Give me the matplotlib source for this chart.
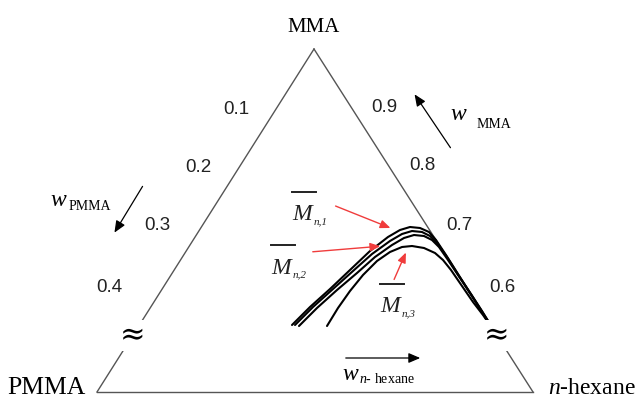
import matplotlib
matplotlib.use("Agg")
import matplotlib.pyplot as plt
import numpy as np

plt.rcParams["mathtext.fontset"] = "custom"
plt.rcParams["mathtext.rm"] = "Liberation Serif"
plt.rcParams["mathtext.it"] = "Liberation Serif:italic"

# Corner positions of the (broken-axis) ternary frame, in drawing units
apex = (314, 49)
corner_left = (97, 392)
corner_right = (533, 392)

corner_labels = ["MMA", "PMMA", "$\\it{n}$-hexane"]

# Axis tick labels along the two slanted sides
left_ticks = ["0.1", "0.2", "0.3", "0.4"]
left_tick_pos = [(236, 110), (198, 167), (157, 225), (109, 287)]
right_ticks = ["0.9", "0.8", "0.7", "0.6"]
right_tick_pos = [(384, 108), (422, 166), (459, 225), (502, 287)]

# Binodal (cloud-point) curves for the polymer samples
curve1_x = [292, 310, 330, 350, 370, 388, 400, 410, 420, 429, 436, 446, 458, 470, 481, 490]
curve1_y = [325, 307, 289, 270, 251, 237, 230, 227, 228, 232, 240, 255, 274, 293, 310, 324]
curve2_x = [295, 313, 333, 353, 372, 390, 402, 412, 422, 430, 437, 447, 459, 471, 482, 490]
curve2_y = [325, 307, 289, 271, 254, 241, 234, 231, 232, 236, 243, 257, 276, 294, 311, 324]
curve3_x = [299, 317, 337, 357, 375, 392, 404, 414, 424, 432, 439, 448, 460, 472, 482, 489]
curve3_y = [326, 308, 290, 273, 257, 245, 238, 235, 236, 240, 247, 260, 278, 296, 312, 324]
curve4_x = [327, 338, 350, 363, 377, 390, 402, 412, 424, 435, 443, 451, 462, 473, 483, 490]
curve4_y = [326, 308, 291, 275, 261, 252, 247, 246, 248, 253, 260, 270, 286, 302, 315, 325]
curves_x = [curve1_x, curve2_x, curve3_x, curve4_x]
curves_y = [curve1_y, curve2_y, curve3_y, curve4_y]

edge_color = "#555555"
red = "#f03c3c"

fig = plt.figure(figsize=(6.38, 4.01), dpi=100)
ax = fig.add_axes([0, 0, 1, 1])
ax.set_xlim(0, 638)
ax.set_ylim(401, 0)
ax.axis("off")


def along(p, q, t):
    return (p[0] + (q[0] - p[0]) * t, p[1] + (q[1] - p[1]) * t)


# Triangle sides with break marks on the slanted sides
lb1 = along(apex, corner_left, 0.80)
lb2 = along(apex, corner_left, 0.87)
ax.plot([apex[0], lb1[0]], [apex[1], lb1[1]], color=edge_color, lw=1.0)
ax.plot([lb2[0], corner_left[0]], [lb2[1], corner_left[1]], color=edge_color, lw=1.0)
rb1 = along(apex, corner_right, 0.80)
rb2 = along(apex, corner_right, 0.87)
ax.plot([apex[0], rb1[0]], [apex[1], rb1[1]], color=edge_color, lw=1.0)
ax.plot([rb2[0], corner_right[0]], [rb2[1], corner_right[1]], color=edge_color, lw=1.0)
ax.plot([corner_left[0], corner_right[0]], [corner_left[1], corner_right[1]],
        color=edge_color, lw=1.0)

lm = along(apex, corner_left, 0.835)
rm = along(apex, corner_right, 0.835)
for m in (lm, rm):
    ax.text(m[0], m[1], "≈", fontsize=22, family="DejaVu Serif",
            ha="center", va="center", color="black",
            bbox=dict(boxstyle="square,pad=0.0", fc="white", ec="none"))

# Binodal curves
for cx, cy in zip(curves_x, curves_y):
    ax.plot(cx, cy, color="black", lw=1.5, solid_capstyle="round")

# Corner labels
serif = "Liberation Serif"
ax.text(apex[0], 28, corner_labels[0], fontsize=15, family=serif,
        ha="center", va="center")
ax.text(46, 388, corner_labels[1], fontsize=18.5, family=serif,
        ha="center", va="center")
ax.text(548, 388, corner_labels[2], fontsize=17, family=serif,
        ha="left", va="center")

# Tick labels
for lab, (x, y) in zip(left_ticks + right_ticks, left_tick_pos + right_tick_pos):
    ax.text(x, y, lab, fontsize=13.5, family="Liberation Sans",
            ha="center", va="center", color="#222222")

# Direction arrows for the mass fractions
arrow_kw = dict(arrowstyle="-|>,head_length=0.7,head_width=0.3", color="black", lw=0.9)
ax.annotate("", xy=(113, 235), xytext=(144, 184), arrowprops=arrow_kw)
ax.annotate("", xy=(413, 92), xytext=(452, 150), arrowprops=arrow_kw)
ax.annotate("", xy=(423, 358), xytext=(343, 358), arrowprops=arrow_kw)

ax.text(58, 200, "w", fontsize=17, family=serif, style="italic",
        ha="center", va="center")
ax.text(69, 207, "PMMA", fontsize=10, family=serif, ha="left", va="center")
ax.text(458, 115, "w", fontsize=17, family=serif, style="italic",
        ha="center", va="center")
ax.text(477, 124, "MMA", fontsize=10, family=serif, ha="left", va="center")
ax.text(350, 375, "w", fontsize=17, family=serif, style="italic",
        ha="center", va="center")
ax.text(359, 379, "$\\it{n}$- hexane", fontsize=10, family=serif,
        ha="left", va="center")

# Molar-mass labels with overbars, pointing at their curves
mn_labels = [("1", 302, 215, (333, 205), (393, 229)),
             ("2", 281, 268, (310, 252), (383, 246)),
             ("3", 390, 307, (393, 282), (407, 250))]
for sub, x, y, tail, head in mn_labels:
    ax.text(x, y, "M", fontsize=17, family=serif, style="italic",
            ha="center", va="center", color="#222222")
    ax.text(x + 12, y + 7, "n," + sub, fontsize=8, family=serif, style="italic",
            ha="left", va="center", color="#222222")
    ax.plot([x - 10, x + 14], [y - 23, y - 23], color="#222222", lw=1.4)
    ax.annotate("", xy=head, xytext=tail,
                arrowprops=dict(arrowstyle="-|>,head_length=0.6,head_width=0.25",
                                color=red, lw=1.0))

fig.savefig("out.png", dpi=100)
